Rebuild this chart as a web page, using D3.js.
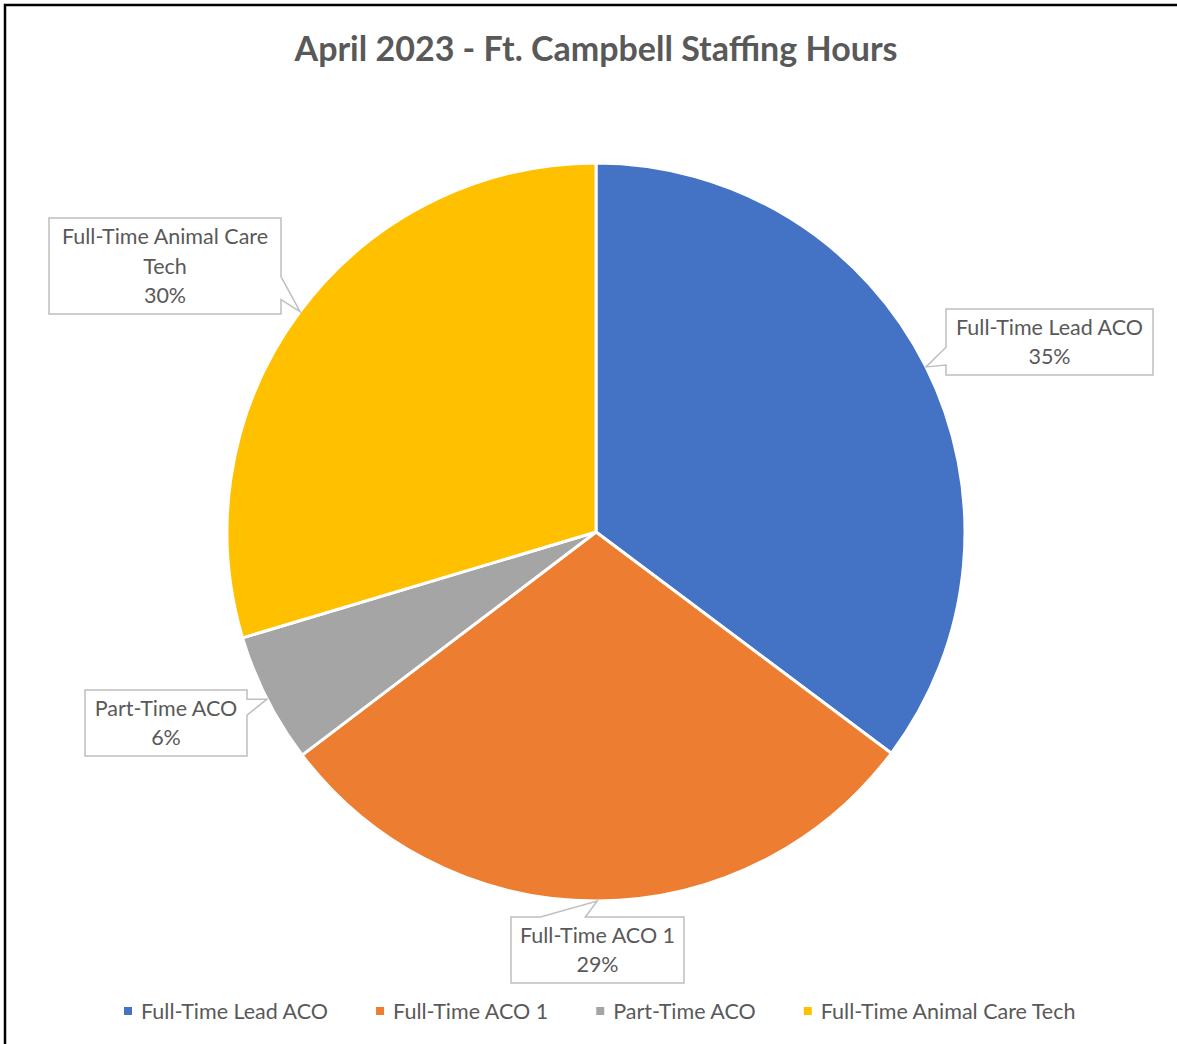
<!DOCTYPE html>
<html>
<head>
<meta charset="utf-8">
<script src="https://cdn.jsdelivr.net/npm/d3@7"></script>
<style>
  html, body { margin: 0; padding: 0; background: #fff; }
  svg { display: block; }
</style>
</head>
<body>
<div id="chart"></div>
<script>
// data (hours)
const categories = ["Full-Time Lead ACO", "Full-Time ACO 1", "Part-Time ACO", "Full-Time Animal Care Tech"];
const hours = [176, 147, 28.5, 148];
const colors = ["#4472C4", "#ED7D31", "#A5A5A5", "#FFC000"];
// how each data label wraps
const labelLines = [
  ["Full-Time Lead ACO"],
  ["Full-Time ACO 1"],
  ["Part-Time ACO"],
  ["Full-Time Animal Care", "Tech"]
];

// callout layout: box and which side the pointer leaves from (fractions along that side)
const callouts = [
  { x: 946, y: 309, w: 207, h: 66, side: "left", a: 0.58, b: 0.85 },
  { x: 511, y: 917, w: 173, h: 66, side: "top", a: 0.17, b: 0.43 },
  { x: 85, y: 690, w: 162, h: 66, side: "right", a: 0.14, b: 0.38 },
  { x: 49, y: 218, w: 232, h: 96, side: "right", a: 0.61, b: 0.85 }
];

const width = 1177;
const height = 1044;
const cx = 596, cy = 532, radius = 369;
const textColor = "#595959";
const font = "Lato, 'Liberation Sans', sans-serif";

const svg = d3.select("#chart").append("svg")
  .attr("width", width)
  .attr("height", height);

svg.append("rect").attr("width", width).attr("height", height).attr("fill", "#fff");

// frame (only top and left edges are visible in the crop)
svg.append("path")
  .attr("d", `M5,${height} L5,5 L${width},5`)
  .attr("fill", "none")
  .attr("stroke", "#000")
  .attr("stroke-width", 2.5);

svg.append("text")
  .attr("x", cx)
  .attr("y", 61)
  .attr("text-anchor", "middle")
  .style("font-family", font)
  .style("font-weight", "bold")
  .style("font-size", "34px")
  .style("fill", textColor)
  .text("April 2023 - Ft. Campbell Staffing Hours");

const total = d3.sum(hours);
const data = categories.map((c, i) => ({ name: c, value: hours[i], i }));

const pie = d3.pie().value(d => d.value).sort(null);
const arcs = pie(data);
const arc = d3.arc().innerRadius(0).outerRadius(radius);

const g = svg.append("g").attr("transform", `translate(${cx},${cy})`);

g.selectAll("path.slice")
  .data(arcs)
  .enter()
  .append("path")
  .attr("class", "slice")
  .attr("d", arc)
  .attr("fill", d => colors[d.data.i])
  .attr("stroke", "#fff")
  .attr("stroke-width", 3)
  .attr("stroke-linejoin", "round");

// callout labels
const pct = d3.format(".0%");

arcs.forEach(d => {
  const c = callouts[d.data.i];
  const mid = (d.startAngle + d.endAngle) / 2;
  const tip = [cx + radius * Math.sin(mid), cy - radius * Math.cos(mid)];

  let pts;
  const x0 = c.x, y0 = c.y, x1 = c.x + c.w, y1 = c.y + c.h;
  if (c.side === "left") {
    const ya = y0 + c.a * c.h, yb = y0 + c.b * c.h;
    pts = [[x0, y0], [x1, y0], [x1, y1], [x0, y1], [x0, yb], tip, [x0, ya]];
  } else if (c.side === "right") {
    const ya = y0 + c.a * c.h, yb = y0 + c.b * c.h;
    pts = [[x0, y0], [x1, y0], [x1, ya], tip, [x1, yb], [x1, y1], [x0, y1]];
  } else {
    const xa = x0 + c.a * c.w, xb = x0 + c.b * c.w;
    pts = [[x0, y0], [xa, y0], tip, [xb, y0], [x1, y0], [x1, y1], [x0, y1]];
  }

  svg.append("path")
    .attr("d", d3.line()(pts) + "Z")
    .attr("fill", "#fff")
    .attr("stroke", "#BFBFBF")
    .attr("stroke-width", 1.5);

  const lines = labelLines[d.data.i].concat([pct(d.data.value / total)]);
  const lh = 29.5;
  const startY = c.y + c.h / 2 - (lines.length - 1) * lh / 2;
  const t = svg.append("text")
    .attr("text-anchor", "middle")
    .style("font-family", font)
    .style("font-size", "21.5px")
    .style("fill", textColor);
  lines.forEach((s, k) => {
    t.append("tspan")
      .attr("x", c.x + c.w / 2)
      .attr("y", startY + k * lh)
      .attr("dy", "0.35em")
      .text(s);
  });
});

// legend
const legend = svg.append("g").attr("transform", "translate(0,1011)");
const items = legend.selectAll("g")
  .data(categories)
  .enter()
  .append("g");

items.append("rect")
  .attr("width", 8)
  .attr("height", 8)
  .attr("y", -4)
  .attr("fill", (_, i) => colors[i]);

items.append("text")
  .attr("x", 17)
  .attr("dy", "0.35em")
  .style("font-family", font)
  .style("font-size", "21.5px")
  .style("fill", textColor)
  .text(d => d);

// lay the legend items out in a row, starting under the left of the plot
const gap = 48;
const widths = [];
items.each(function() { widths.push(this.getBBox().width); });
let xPos = 124;
items.each(function(_, i) {
  d3.select(this).attr("transform", `translate(${xPos},0)`);
  xPos += widths[i] + gap;
});
</script>
</body>
</html>
